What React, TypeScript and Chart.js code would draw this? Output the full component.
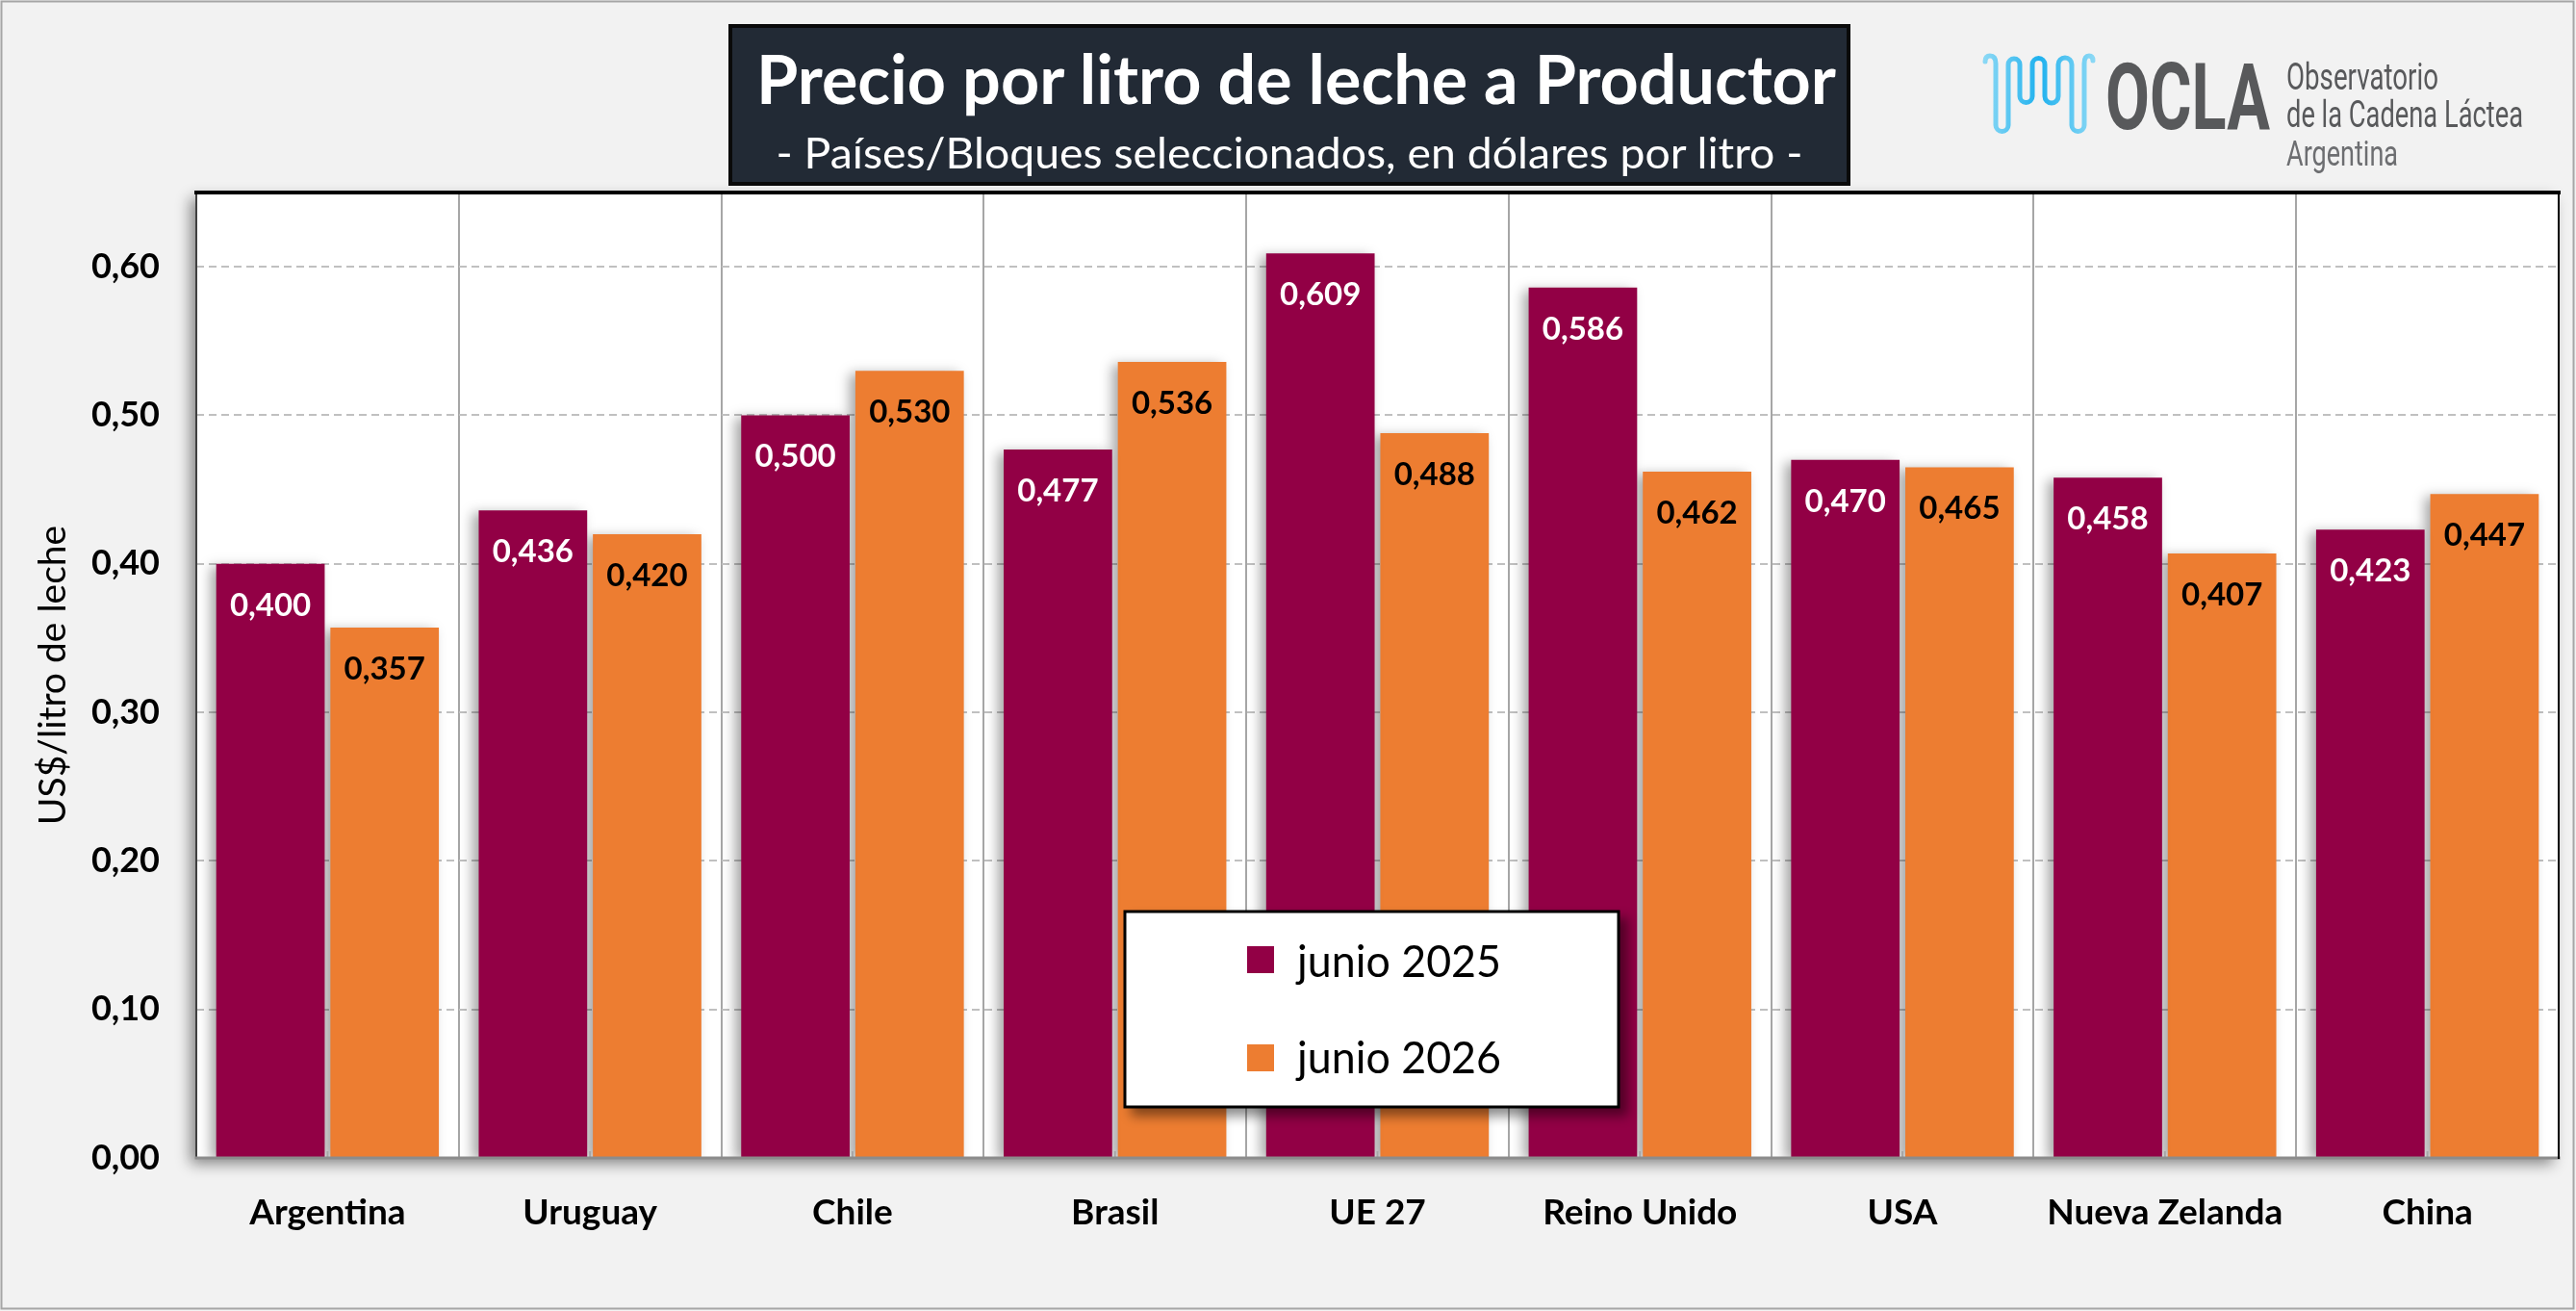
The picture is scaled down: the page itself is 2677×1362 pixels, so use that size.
import { useEffect, useRef } from "react";
import { Chart, registerables } from "chart.js";

Chart.register(...registerables);

const categories = [
  "Argentina",
  "Uruguay",
  "Chile",
  "Brasil",
  "UE 27",
  "Reino Unido",
  "USA",
  "Nueva Zelanda",
  "China",
];
const junio2025 = [0.4, 0.436, 0.5, 0.477, 0.609, 0.586, 0.47, 0.458, 0.423];
const junio2026 = [0.357, 0.42, 0.53, 0.536, 0.488, 0.462, 0.465, 0.407, 0.447];
const seriesNames = ["junio 2025", "junio 2026"];
const seriesColors = ["#920045", "#ed7d31"];
const labelColors = ["#ffffff", "#000000"];

const W = 2677;
const H = 1362;
const FONT = "Lato";

const fmt = (v: number, d: number) => v.toFixed(d).replace(".", ",");

// white plot panel with a soft shadow, frame lines, value labels
const panelPlugin = {
  id: "panel",
  beforeDraw(chart: any) {
    const { ctx, chartArea: a } = chart;
    ctx.save();
    ctx.shadowColor = "rgba(0,0,0,0.45)";
    ctx.shadowBlur = 14;
    ctx.shadowOffsetX = -6;
    ctx.shadowOffsetY = 6;
    ctx.fillStyle = "#ffffff";
    ctx.fillRect(a.left, a.top, a.right - a.left, a.bottom - a.top);
    ctx.restore();
  },
  beforeDatasetsDraw(chart: any) {
    const { ctx } = chart;
    ctx.save();
    ctx.shadowColor = "rgba(0,0,0,0.35)";
    ctx.shadowBlur = 12;
    ctx.shadowOffsetX = -6;
    ctx.shadowOffsetY = 3;
  },
  afterDatasetsDraw(chart: any) {
    const { ctx } = chart;
    ctx.restore();
    ctx.save();
    ctx.font = `bold 33px ${FONT}`;
    ctx.textAlign = "center";
    ctx.textBaseline = "alphabetic";
    chart.data.datasets.forEach((ds: any, di: number) => {
      const meta = chart.getDatasetMeta(di);
      ctx.fillStyle = labelColors[di];
      meta.data.forEach((el: any, i: number) => {
        ctx.fillText(fmt(ds.data[i], 3), el.x, el.y + 54);
      });
    });
    ctx.restore();
  },
  afterDraw(chart: any) {
    const { ctx, chartArea: a } = chart;
    const x = chart.scales.x;
    ctx.save();
    // small marks at category centres
    ctx.strokeStyle = "#a6a6a6";
    ctx.lineWidth = 2;
    categories.forEach((_, i) => {
      const px = x.getPixelForValue(i);
      ctx.beginPath();
      ctx.moveTo(px, a.bottom);
      ctx.lineTo(px, a.bottom - 7);
      ctx.stroke();
    });
    ctx.lineCap = "square";
    ctx.strokeStyle = "#404040";
    ctx.lineWidth = 2;
    ctx.beginPath();
    ctx.moveTo(a.left, a.top);
    ctx.lineTo(a.left, a.bottom);
    ctx.stroke();
    ctx.strokeStyle = "#8c8c8c";
    ctx.lineWidth = 3;
    ctx.beginPath();
    ctx.moveTo(a.left, a.bottom);
    ctx.lineTo(a.right, a.bottom);
    ctx.stroke();
    ctx.strokeStyle = "#000000";
    ctx.lineWidth = 2;
    ctx.beginPath();
    ctx.moveTo(a.right, a.top);
    ctx.lineTo(a.right, a.bottom);
    ctx.stroke();
    ctx.lineWidth = 4;
    ctx.beginPath();
    ctx.moveTo(a.left, a.top);
    ctx.lineTo(a.right, a.top);
    ctx.stroke();
    ctx.restore();
  },
};

export default function App() {
  const canvasRef = useRef<HTMLCanvasElement>(null);
  const chartRef = useRef<Chart | null>(null);

  useEffect(() => {
    let cancelled = false;

    const build = () => {
      if (cancelled || !canvasRef.current) return;
      if (chartRef.current) chartRef.current.destroy();

      chartRef.current = new Chart(canvasRef.current, {
        type: "bar",
        data: {
          labels: categories,
          datasets: [
            {
              label: seriesNames[0],
              data: junio2025,
              backgroundColor: seriesColors[0],
              borderWidth: 0,
              categoryPercentage: 0.87,
              barPercentage: 0.95,
            },
            {
              label: seriesNames[1],
              data: junio2026,
              backgroundColor: seriesColors[1],
              borderWidth: 0,
              categoryPercentage: 0.87,
              barPercentage: 0.95,
            },
          ],
        },
        options: {
          responsive: false,
          animation: false,
          devicePixelRatio: 1,
          layout: { padding: { left: 0, top: 200, right: 18, bottom: 59 } },
          plugins: {
            legend: { display: false },
            tooltip: { enabled: false },
          },
          scales: {
            x: {
              grid: { color: "#a6a6a6", lineWidth: 2, drawTicks: false, offset: true },
              border: { display: false },
              ticks: {
                color: "#000000",
                font: { family: FONT, weight: "bold", size: 37 },
                padding: 35,
                maxRotation: 0,
                autoSkip: false,
              },
              afterFit: (s: any) => {
                s.height = 100;
              },
            },
            y: {
              min: 0,
              max: 0.65,
              grid: { color: "#c0c0c0", lineWidth: 2, drawTicks: false },
              border: { display: false, dash: [8, 5] },
              ticks: {
                stepSize: 0.1,
                color: "#000000",
                padding: 38,
                font: { family: FONT, weight: "bold", size: 36 },
                callback: (v: any) => fmt(Number(v), 2),
              },
              afterBuildTicks: (s: any) => {
                s.ticks = s.ticks.filter(
                  (t: any) => Math.abs(t.value * 10 - Math.round(t.value * 10)) < 1e-6
                );
              },
              title: {
                display: true,
                text: "US$/litro de leche",
                color: "#000000",
                font: { family: FONT, size: 39 },
                padding: { top: 32, bottom: 0 },
              },
              afterFit: (s: any) => {
                s.width = 204;
              },
            },
          },
        },
        plugins: [panelPlugin],
      } as any);
    };

    Promise.all([
      document.fonts.load(`bold 36px ${FONT}`),
      document.fonts.load(`36px ${FONT}`),
    ])
      .catch(() => null)
      .then(build);

    return () => {
      cancelled = true;
      if (chartRef.current) {
        chartRef.current.destroy();
        chartRef.current = null;
      }
    };
  }, []);

  return (
    <div
      style={{
        position: "absolute",
        left: 0,
        top: 0,
        width: W,
        height: H,
        background: "#f2f2f2",
        overflow: "hidden",
      }}
    >
      <canvas
        ref={canvasRef}
        width={W}
        height={H}
        style={{ position: "absolute", left: 0, top: 0, width: W, height: H }}
      />
      <svg
        width={W}
        height={H}
        style={{ position: "absolute", left: 0, top: 0, pointerEvents: "none" }}
      >
        <defs>
          <filter id="legShadow" x="-10%" y="-10%" width="130%" height="140%">
            <feDropShadow dx="8" dy="8" stdDeviation="6" floodColor="#000" floodOpacity="0.45" />
          </filter>
          <linearGradient id="wave" x1="0" y1="0" x2="1" y2="0">
            <stop offset="0" stopColor="#8ad8f5" />
            <stop offset="0.5" stopColor="#1fb1ee" />
            <stop offset="1" stopColor="#8ad8f5" />
          </linearGradient>
        </defs>
        <rect x={1.5} y={1.5} width={W - 4} height={H - 4} fill="none" stroke="#a6a6a6" strokeWidth={2} />

        {/* title block */}
        <rect x={759} y={27} width={1162} height={164} fill="#222a35" stroke="#0a0a0a" strokeWidth={4} />
        <text
          x={1347}
          y={108}
          fill="#ffffff"
          fontFamily={FONT}
          fontWeight="bold"
          fontSize={70}
          textAnchor="middle"
          textLength={1122}
          lengthAdjust="spacingAndGlyphs"
        >
          Precio por litro de leche a Productor
        </text>
        <text
          x={1340}
          y={175}
          fill="#ffffff"
          fontFamily={FONT}
          fontSize={45}
          textAnchor="middle"
          textLength={1067}
          lengthAdjust="spacingAndGlyphs"
        >
          - Países/Bloques seleccionados, en dólares por litro -
        </text>

        {/* OCLA logo */}
        <path
          d="M2063,64 Q2063,58 2068,58 Q2074,58 2074,66 L2074,130 A6.5,6.5 0 0 0 2087,130 L2087,67 A6,6 0 0 1 2099,67 L2099,100 A6.5,6.5 0 0 0 2112,100 L2112,67 A6.5,6.5 0 0 1 2125,67 L2125,100 A7,7 0 0 0 2139,100 L2139,67 A7,7 0 0 1 2153,67 L2153,130 A6.5,6.5 0 0 0 2166,130 L2166,66 Q2166,58 2171,58 Q2175,58 2175,63"
          fill="none"
          stroke="url(#wave)"
          strokeWidth={5}
          strokeLinecap="round"
        />
        <text
          x={2188}
          y={134}
          fill="#58595b"
          fontFamily="Roboto"
          fontWeight="bold"
          fontSize={97}
          textLength={171}
          lengthAdjust="spacingAndGlyphs"
        >
          OCLA
        </text>
        <text x={2376} y={93} fill="#58595b" fontFamily="Roboto" fontSize={38} textLength={158} lengthAdjust="spacingAndGlyphs">
          Observatorio
        </text>
        <text x={2376} y={132} fill="#58595b" fontFamily="Roboto" fontSize={38} textLength={246} lengthAdjust="spacingAndGlyphs">
          de la Cadena Láctea
        </text>
        <text x={2376} y={172} fill="#6d6e71" fontFamily="Roboto" fontSize={36} textLength={116} lengthAdjust="spacingAndGlyphs">
          Argentina
        </text>

        {/* legend */}
        <rect x={1169} y={947} width={513} height={203} fill="#ffffff" stroke="#000000" strokeWidth={3} filter="url(#legShadow)" />
        <rect x={1296} y={983} width={28} height={28} fill={seriesColors[0]} />
        <rect x={1296} y={1085} width={28} height={28} fill={seriesColors[1]} />
        <text x={1348} y={1015} fontFamily={FONT} fontSize={47} fill="#000" textLength={212} lengthAdjust="spacingAndGlyphs">
          {seriesNames[0]}
        </text>
        <text x={1348} y={1115} fontFamily={FONT} fontSize={47} fill="#000" textLength={212} lengthAdjust="spacingAndGlyphs">
          {seriesNames[1]}
        </text>
      </svg>
    </div>
  );
}
